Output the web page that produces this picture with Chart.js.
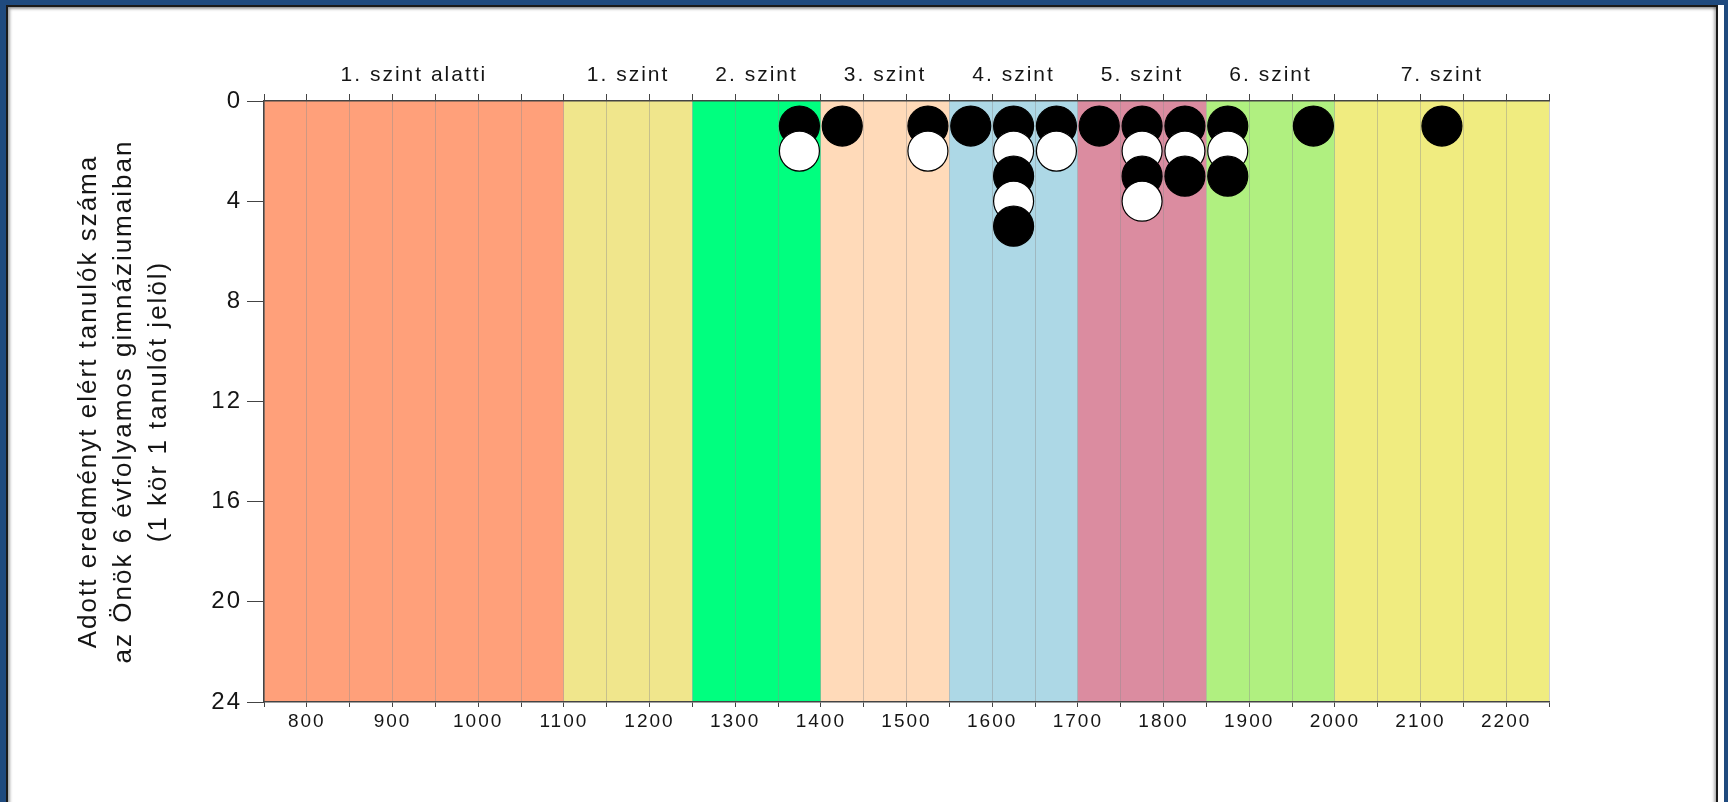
<!DOCTYPE html>
<html>
<head>
<meta charset="utf-8">
<script src="https://cdn.jsdelivr.net/npm/chart.js@4.4.0/dist/chart.umd.min.js"></script>
<style>
  html, body { margin:0; padding:0; }
  body { width:1728px; height:802px; overflow:hidden; background:#1F4A7E; position:relative; }
  #panel { position:absolute; left:6px; top:5px; width:1718px; height:900px; background:#fff; }
  #frame { position:absolute; left:6px; top:5px; width:1708px; height:900px;
           border:2.5px solid #1a1a1a; border-bottom:none;
           box-shadow: inset 2px 2px 3px rgba(0,0,0,0.35), inset -2px 0 3px rgba(0,0,0,0.3); }
  #wrap { position:absolute; left:0; top:0; width:1728px; height:802px; }
</style>
</head>
<body>
<div id="panel"></div>
<div id="frame"></div>
<div id="wrap"><canvas id="c" width="1728" height="802" style="width:1728px;height:802px"></canvas></div>
<script>
// ---- data ----
const levelNames  = ['1. szint alatti', '1. szint', '2. szint', '3. szint', '4. szint', '5. szint', '6. szint', '7. szint'];
const levelStarts = [750, 1100, 1250, 1400, 1550, 1700, 1850, 2000];
const levelEnds   = [1100, 1250, 1400, 1550, 1700, 1850, 2000, 2250];
const scoreBins     = [1375, 1425, 1525, 1575, 1625, 1675, 1725, 1775, 1825, 1875, 1975, 2125];
const studentCounts = [2, 1, 2, 1, 5, 2, 1, 4, 3, 3, 1, 1];
const yTitleLines = ['Adott eredményt elért tanulók száma', 'az Önök 6 évfolyamos gimnáziumaiban', '(1 kör 1 tanulót jelöl)'];

// ---- styles ----
const bandColors = ['#FFA07A', '#F0E68C', '#00FF7F', '#FFDAB9', '#ADD8E6', '#DB8CA0', '#B0F080', '#F0EC80'];
const FONT = '"Liberation Sans", Arial, sans-serif';
const TEXT = '#151515';

const points = [];
scoreBins.forEach((b, i) => {
  for (let k = 1; k <= studentCounts[i]; k++) points.push({ x: b, y: k });
});
const pointColors = points.map(p => (p.y % 2 === 1 ? '#000000' : '#ffffff'));

const spacingPlugin = {
  id: 'spacing',
  beforeUpdate(chart) { chart.ctx.letterSpacing = '2px'; },
  beforeDraw(chart) { chart.ctx.letterSpacing = '2px'; }
};

const bandsPlugin = {
  id: 'bands',
  beforeDraw(chart) {
    const { ctx, chartArea, scales } = chart;
    const x = scales.x;
    ctx.save();
    levelStarts.forEach((s, i) => {
      const x0 = x.getPixelForValue(s);
      const x1 = x.getPixelForValue(levelEnds[i]);
      ctx.fillStyle = bandColors[i];
      ctx.fillRect(x0, chartArea.top, x1 - x0, chartArea.bottom - chartArea.top);
    });
    ctx.restore();
  }
};

Chart.defaults.font.family = FONT;

new Chart(document.getElementById('c'), {
  type: 'scatter',
  data: {
    datasets: [{
      data: points,
      pointRadius: 20,
      pointHoverRadius: 20,
      pointBackgroundColor: pointColors,
      pointBorderColor: '#000000',
      pointBorderWidth: 1.2,
      clip: false
    }]
  },
  options: {
    responsive: false,
    animation: false,
    devicePixelRatio: 1,
    layout: { padding: { left: 0, right: 179, top: 0, bottom: 0 } },
    plugins: { legend: { display: false }, tooltip: { enabled: false } },
    scales: {
      x: {
        type: 'linear', position: 'bottom', min: 750, max: 2250,
        afterFit(s) { s.height = 100; },
        ticks: {
          stepSize: 50, autoSkip: false, maxRotation: 0, maxTicksLimit: 100,
          color: TEXT, font: { size: 19 }, padding: 3,
          callback: v => (v % 100 === 0 ? String(v) : '')
        },
        grid: { color: 'rgba(140,140,140,0.42)', lineWidth: 1, tickLength: 5, tickColor: '#444' },
        border: { color: '#444', width: 1.5 }
      },
      x2: {
        type: 'linear', position: 'top', min: 750, max: 2250,
        afterFit(s) { s.height = 101; },
        ticks: {
          stepSize: 25, autoSkip: false, maxRotation: 0, maxTicksLimit: 100,
          color: TEXT, font: { size: 21 }, padding: 6,
          callback: v => {
            const i = levelStarts.findIndex((s, j) => (s + levelEnds[j]) / 2 === v);
            return i >= 0 ? levelNames[i] : '';
          }
        },
        grid: {
          drawOnChartArea: false, tickLength: 7,
          tickColor: c => (c.tick && c.tick.value % 50 === 0 ? '#444' : 'rgba(0,0,0,0)')
        },
        border: { color: '#444', width: 1.5 }
      },
      y: {
        type: 'linear', position: 'left', min: 0, max: 24, reverse: true,
        afterFit(s) { s.width = 264; },
        ticks: { stepSize: 4, color: TEXT, font: { size: 24 }, padding: 5 },
        grid: { drawOnChartArea: false, tickLength: 17, tickColor: '#444' },
        border: { color: '#444', width: 1.5 },
        title: {
          display: true, text: yTitleLines, color: TEXT,
          font: { size: 26, lineHeight: 1.346 },
          padding: { top: 71, bottom: 0 }
        }
      }
    }
  },
  plugins: [spacingPlugin, bandsPlugin]
});
</script>
</body>
</html>
